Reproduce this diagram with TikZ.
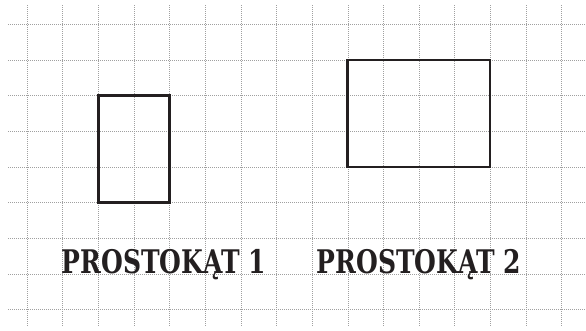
\documentclass[tikz,border=0pt]{standalone}
\usepackage{fontspec}
\usepackage{tikz}
\usetikzlibrary{positioning}
\setmainfont{DejaVu Serif}
\definecolor{GridGray}{HTML}{A0A0A0}
\definecolor{InkBlack}{HTML}{231F20}

\begin{document}
\begin{tikzpicture}[x=1pt, y=-1pt]
        \useasboundingbox (0,0) rectangle (586,330);

        % --- 1. Squared paper ---
        \foreach \k in {0,...,15} {
            \draw[GridGray, line width=0.7pt, dash pattern=on 1pt off 1pt] (27+35.65*\k, 5) -- (27+35.65*\k, 327);
        }
        \foreach \k in {0,...,8} {
            \draw[GridGray, line width=0.7pt, dash pattern=on 1pt off 1pt] (8, 24.3+35.65*\k) -- (586, 24.3+35.65*\k);
        }

        % --- 2. Rectangles ---
        \draw[InkBlack, line width=2.4pt] (98.3, 95.6) rectangle (169.6, 202.6);
        \draw[InkBlack, line width=2.4pt] (347.3, 60) rectangle (489.9, 166.9);

        % Labels
        \node[InkBlack, anchor=base, inner sep=0pt, xscale=0.77, font=\fontsize{32.5}{32.5}\selectfont\bfseries] (label1) at (164, 273.7) {PROSTOKĄT 1};
        \node[InkBlack, anchor=base, inner sep=0pt, xscale=0.77, font=\fontsize{32.5}{32.5}\selectfont\bfseries] (label2) at (419, 273.7) {PROSTOKĄT 2};

    \end{tikzpicture}
\end{document}
